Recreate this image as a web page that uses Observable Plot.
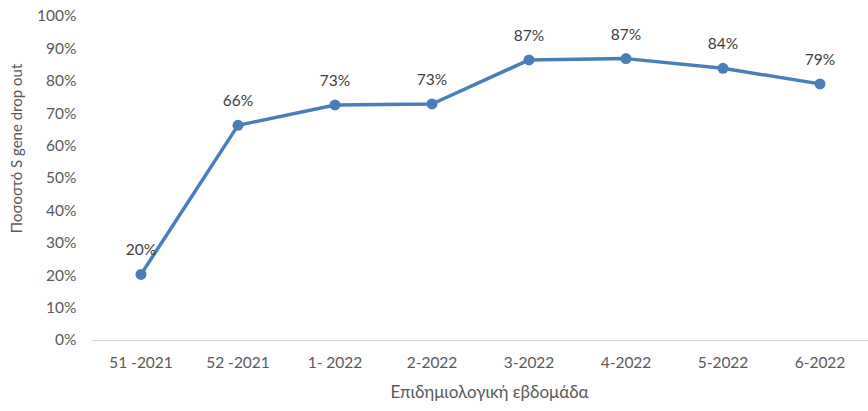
<!DOCTYPE html>
<html><head><meta charset="utf-8">
<script src="https://cdn.jsdelivr.net/npm/d3@7"></script>
<script src="https://cdn.jsdelivr.net/npm/@observablehq/plot@0.6"></script>
<style>
body{margin:0;background:#fff;}
</style>
</head><body><div id="chart"></div>
<script>
const weeks = ["51 -2021","52 -2021","1- 2022","2-2022","3-2022","4-2022","5-2022","6-2022"];
const shares = [0.204, 0.664, 0.727, 0.730, 0.866, 0.870, 0.840, 0.792];
const yTicks = [0,0.1,0.2,0.3,0.4,0.5,0.6,0.7,0.8,0.9,1];
const yTitle = "Ποσοστό S gene drop out";
const xTitle = "Επιδημιολογική εβδομάδα";

const data = weeks.map((w,i)=>({week:w, share:shares[i]}));
const pct = d3.format(".0%");
const font = "Lato, 'Open Sans', sans-serif";
const blue = "#4a7ebb";

const chart = Plot.plot({
  width: 868, height: 411,
  marginLeft: 92, marginRight: 0, marginTop: 16, marginBottom: 71,
  style: {fontFamily: font, fontSize: "15px", color: "#595959", background: "#fff"},
  x: {type: "band", domain: weeks, padding: 0, label: null},
  y: {domain: [0,1], label: null},
  marks: [
    Plot.axisY({ticks: yTicks, tickFormat: pct, tickSize: 0, tickPadding: 16, fontSize: 15.5, fill: "#595959"}),
    Plot.axisX({tickSize: 0, tickPadding: 16, fontSize: 15.5, fill: "#595959"}),
    Plot.ruleY([0], {stroke: "#d9d9d9", strokeWidth: 1}),
    Plot.line(data, {x: "week", y: "share", stroke: blue, strokeWidth: 3.5}),
    Plot.dot(data, {x: "week", y: "share", fill: blue, r: 5.5}),
    Plot.text(data, {x: "week", y: "share", text: d => pct(d.share), dy: -24, fontSize: 15.5, fill: "#404040"}),
    Plot.text([yTitle], {frameAnchor: "left", textAnchor: "middle", dx: -75, dy: -30, rotate: -90, fontSize: 15, fill: "#595959"}),
    Plot.text([xTitle], {frameAnchor: "bottom", dx: 9, dy: 57, fontSize: 17, fill: "#595959"})
  ]
});
document.getElementById("chart").appendChild(chart);
</script>
</body></html>
